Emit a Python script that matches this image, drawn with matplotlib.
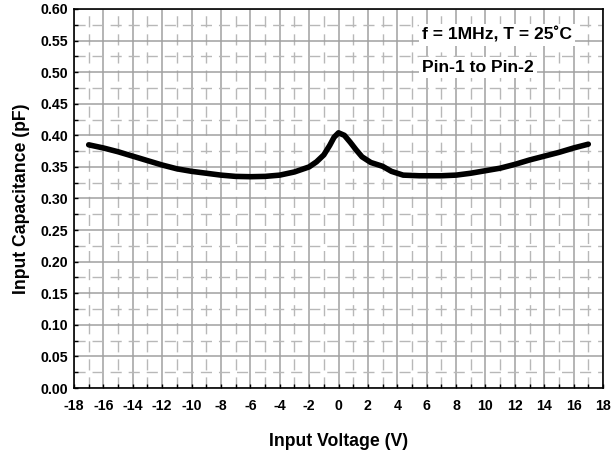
import matplotlib
matplotlib.use("Agg")
import matplotlib.pyplot as plt
from matplotlib.ticker import MultipleLocator
import numpy as np

plt.rcParams['font.family'] = ['Liberation Sans', 'DejaVu Sans']

# Input voltage (V) and capacitance (pF)
voltage = [-17, -16, -15, -14, -13, -12, -11, -10, -9, -8, -7, -6, -5, -4,
           -3, -2, -1.5, -1, -0.6, -0.3, 0, 0.4, 0.8, 1.2, 1.6, 2.2, 3,
           3.6, 4.4, 5.5, 7, 8, 9, 10, 11, 12, 13, 14, 15, 16, 17]
capacitance = [0.385, 0.380, 0.374, 0.367, 0.360, 0.353, 0.347, 0.343, 0.340,
               0.337, 0.335, 0.3345, 0.335, 0.337, 0.342, 0.350, 0.358, 0.369,
               0.384, 0.397, 0.404, 0.400, 0.389, 0.377, 0.366, 0.357, 0.351,
               0.343, 0.337, 0.336, 0.336, 0.337, 0.340, 0.344, 0.348, 0.354,
               0.361, 0.367, 0.373, 0.380, 0.386]

x_ticks = np.arange(-18, 19, 2)
y_ticks = np.arange(0, 0.601, 0.05)

fig = plt.figure(figsize=(6.12, 4.57), dpi=100)
# axes box: x 74..603 px, y 9..388 px
ax = fig.add_axes((74 / 612, 1 - 388 / 457, 529 / 612, 379 / 457))

# grid: solid at labelled ticks, dashed halfway between
for v in np.arange(-18, 19, 1):
    if v % 2 == 0:
        ax.axvline(v, color="#a0a0a0", lw=1.1, zorder=1)
    else:
        ax.axvline(v, color="#b8b8b8", lw=1.0, ls=(0, (8, 5)), zorder=1)
for c in np.arange(0, 0.601, 0.025):
    if round(c / 0.025) % 2 == 0:
        ax.axhline(c, color="#a0a0a0", lw=1.1, zorder=1)
    else:
        ax.axhline(c, color="#b8b8b8", lw=1.0, ls=(0, (8, 5)), zorder=1)

ax.plot(voltage, capacitance, color="black", lw=4, solid_capstyle="round",
        solid_joinstyle="round", zorder=3)

ax.set_xlim(-18, 18)
ax.set_ylim(0, 0.60)
ax.set_xticks(x_ticks)
ax.set_xticklabels([f"{v}" for v in x_ticks], fontsize=10.2, fontweight="bold")
ax.set_yticks(y_ticks)
ax.set_yticklabels([f"{v:.2f}" for v in y_ticks], fontsize=10.2, fontweight="bold")
ax.xaxis.set_minor_locator(MultipleLocator(1))
ax.yaxis.set_minor_locator(MultipleLocator(0.025))
ax.tick_params(axis="x", which="both", direction="in", length=3, width=1, pad=8)
ax.tick_params(axis="y", which="both", direction="in", length=3, width=1, pad=4)
for s in ax.spines.values():
    s.set_linewidth(1.2)
    s.set_zorder(4)

ax.set_xlabel("Input Voltage (V)", fontsize=12.7, fontweight="bold", labelpad=14)
ax.set_ylabel("Input Capacitance (pF)", fontsize=12.7, fontweight="bold", labelpad=8)

box = dict(facecolor="white", edgecolor="none", pad=2)
ax.text(5.69, 0.559, "f = 1MHz, T = 25˚C", fontsize=12.6, fontweight="bold",
        ha="left", va="center", bbox=box, zorder=5)
ax.text(5.69, 0.507, "Pin-1 to Pin-2", fontsize=12.6, fontweight="bold",
        ha="left", va="center", bbox=box, zorder=5)

fig.savefig("out.png", dpi=100, facecolor="white")
